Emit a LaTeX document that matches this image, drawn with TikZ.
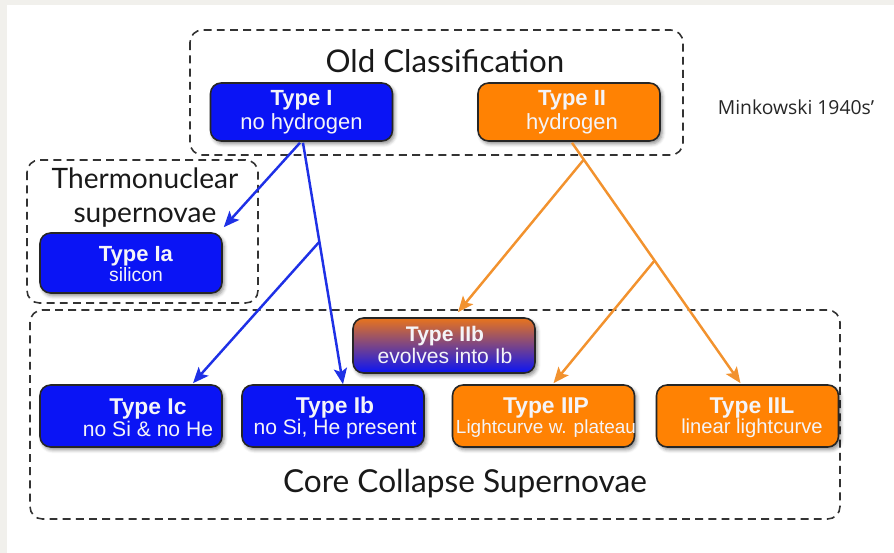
\documentclass[tikz,border=0pt]{standalone}
\usepackage{fontspec}
\setmainfont{Liberation Sans}
\newfontfamily\titlefont{Lato}
\newfontfamily\notefont{Open Sans}
\usetikzlibrary{arrows.meta,shadows.blur,calc}
\definecolor{bgedge}{HTML}{F1F0EC}
\definecolor{boxblue}{HTML}{0A14F5}
\definecolor{boxorange}{HTML}{FF8203}
\definecolor{iibtop}{HTML}{E8741C}
\definecolor{arrblue}{HTML}{1E30E6}
\definecolor{arrorange}{HTML}{F2922E}
\definecolor{dashgray}{HTML}{333333}
\definecolor{txtlight}{HTML}{F4F4F8}
\begin{document}
\begin{tikzpicture}[x=0.02cm,y=-0.02cm,
  frame/.style={draw=dashgray, dashed, dash pattern=on 4.5pt off 3pt, line width=0.9pt, rounded corners=7pt},
  box/.style={rounded corners=6pt, draw=black!85, line width=0.9pt, minimum width=3.64cm, minimum height=1.16cm,
    blur shadow={shadow xshift=1.2pt, shadow yshift=-1.6pt, shadow blur radius=2pt, shadow opacity=45}},
  txt/.style={align=center, text=txtlight, inner sep=0pt},
  ttl/.style={font=\titlefont\fontsize{17.8}{19.3}\selectfont, text=black!90, align=center, inner sep=0pt},
  arrb/.style={draw=arrblue, line width=1.4pt, -{Stealth[length=9pt,width=7.5pt,inset=2pt]}},
  arro/.style={draw=arrorange, line width=1.4pt, -{Stealth[length=9pt,width=7.5pt,inset=2pt]}}
]
\useasboundingbox (0,0) rectangle (894,553);
\fill[bgedge] (0,0) rectangle (894,5);
\fill[bgedge] (0,0) rectangle (7,553);

% dashed group frames
\draw[frame] (190,30) rectangle (683,155);
\draw[frame] (27,160) rectangle (258,303);
\draw[frame] (30,310) rectangle (840,519);

% titles
\node[ttl] (old) at (445,61) {Old Classification};
\node[ttl, font=\titlefont\fontsize{16}{19.3}\selectfont] (thermo) at (145,198) {Thermonuclear\\supernovae};
\node[ttl, font=\titlefont\fontsize{18}{20}\selectfont] (core) at (465,484) {Core Collapse Supernovae};
\node[font=\notefont\fontsize{11}{13}\selectfont, text=black!85, inner sep=0pt] (mink) at (796,107) {Minkowski 1940s’};

% boxes
\node[box, fill=boxblue] (t1) at (301.5,112) {};
\node[txt, font=\fontsize{12.5}{13.5}\selectfont] (t1l) at (301.5,112) {\textbf{Type I}\\no hydrogen};

\node[box, fill=boxorange] (t2) at (569,112) {};
\node[txt, font=\fontsize{12.5}{13.5}\selectfont] (t2l) at (572,112) {\textbf{Type II}\\hydrogen};

\node[box, fill=boxblue, minimum height=1.2cm] (ia) at (131,263) {};
\node[txt, font=\fontsize{12.5}{11}\selectfont] (ial) at (136,264) {\textbf{Type Ia}\\{\fontsize{11}{11}\selectfont silicon}};

\node[box, top color=iibtop, bottom color=boxblue, middle color=iibtop!50!boxblue, minimum height=1.1cm] (iib) at (444,345.5) {};
\node[txt, font=\fontsize{12}{11}\selectfont] (iibl) at (445,345) {\textbf{Type IIb}\\evolves into Ib};

\node[box, fill=boxblue, minimum height=1.24cm] (tc) at (131,416) {};
\node[txt, font=\fontsize{12}{11.3}\selectfont] (tcl) at (148,418) {{\fontsize{13}{11.3}\selectfont\bfseries Type Ic}\\no Si \& no He};

\node[box, fill=boxblue, minimum height=1.24cm] (tb) at (333,416) {};
\node[txt, font=\fontsize{12}{11.3}\selectfont] (tbl) at (335,418) {{\fontsize{13}{11.3}\selectfont\bfseries Type Ib}\\no Si, He present};

\node[box, fill=boxorange, minimum height=1.24cm] (tp) at (543.5,416) {};
\node[txt, font=\fontsize{12}{11.3}\selectfont] (tpl) at (546,418) {{\fontsize{13}{11.3}\selectfont\bfseries Type IIP}\\{\fontsize{10.8}{11.3}\selectfont Lightcurve w. plateau}};

\node[box, fill=boxorange, minimum height=1.24cm] (tl) at (747.5,416) {};
\node[txt, font=\fontsize{12}{11.3}\selectfont] (tll) at (752,418) {{\fontsize{13}{11.3}\selectfont\bfseries Type IIL}\\{\fontsize{11.5}{11.3}\selectfont linear lightcurve}};

% blue connectors
\coordinate (bs1) at ($(t1.south)+(-1.5,1)$);
\coordinate (bs2) at ($(t1.south)+(1.5,1)$);
\coordinate (bend) at ($(tb.north)+(10,0)$);
\draw[arrb] (bs1) -- ($(ia.north east)+(1,-5)$);
\draw[arrb] (bs2) -- (bend);
\coordinate (bbr) at ($(bs2)!0.41!(bend)$);
\draw[arrb] (bbr) -- ($(tc.north)+(62,-1)$);

% orange connectors
\coordinate (os) at ($(t2.south)+(3,1)$);
\coordinate (oend) at ($(tl.north)+(-7,-1)$);
\draw[arro] (os) -- (oend);
\coordinate (obr1) at ($(os)!0.07!(oend)$);
\coordinate (obr2) at ($(os)!0.49!(oend)$);
\draw[arro] (obr1) -- ($(iib.north)+(14,-5)$);
\draw[arro] (obr2) -- ($(tp.north)+(10,-1)$);
\end{tikzpicture}
\end{document}
